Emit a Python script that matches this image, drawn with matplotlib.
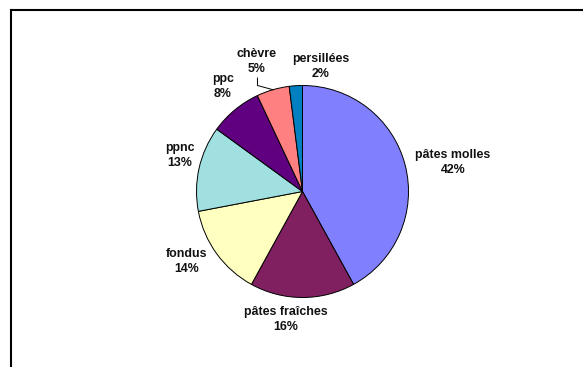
import matplotlib.pyplot as plt
import numpy as np
from matplotlib.lines import Line2D

plt.rcParams['font.family'] = ['Liberation Sans', 'DejaVu Sans']

# Répartition par famille de fromages (%)
familles = ['pâtes molles', 'pâtes fraîches', 'fondus', 'ppnc', 'ppc', 'chèvre', 'persillées']
parts = [42, 16, 14, 13, 8, 5, 2]
couleurs = ['#8080FF', '#802060', '#FFFFC0', '#A0E0E0', '#600080', '#FF8080', '#0080C0']

# position des étiquettes (unités du camembert, rayon = 1)
pos_etiquettes = [(1.42, 0.27), (-0.16, -1.21), (-1.09, -0.66), (-1.16, 0.34),
                  (-0.75, 0.99), (-0.43, 1.23), (0.17, 1.18)]

W, H = 583, 367
fig = plt.figure(figsize=(W / 100, H / 100), dpi=100)

# cadre (bords gauche et haut seulement)
fig.add_artist(Line2D([11 / W, 11 / W], [0, 1 - 10 / H], color='black', lw=1.5))
fig.add_artist(Line2D([11 / W, 1], [1 - 10 / H, 1 - 10 / H], color='black', lw=1.5))

cx, cy, r = 302.5, 191.5, 106
ax = fig.add_axes([(cx - r) / W, (H - cy - r) / H, 2 * r / W, 2 * r / H])

wedges, _ = ax.pie(parts, colors=couleurs, startangle=90, counterclock=False,
                   wedgeprops=dict(edgecolor='black', linewidth=0.7))
ax.set_xlim(-1, 1)
ax.set_ylim(-1, 1)
ax.set_aspect('equal')

for nom, p, (x, y) in zip(familles, parts, pos_etiquettes):
    ax.text(x, y, f'{nom}\n{p}%', ha='center', va='center', fontsize=8.9,
            fontweight='bold', linespacing=1.32, color='#111111')

# trait de rappel pour chèvre
w = wedges[familles.index('chèvre')]
a = np.deg2rad((w.theta1 + w.theta2) / 2)
ax.plot([-0.425, -0.425, np.cos(a)], [1.07, 1.0, np.sin(a)], color='black', lw=0.7,
        clip_on=False)

fig.savefig('out.png', dpi=100)
